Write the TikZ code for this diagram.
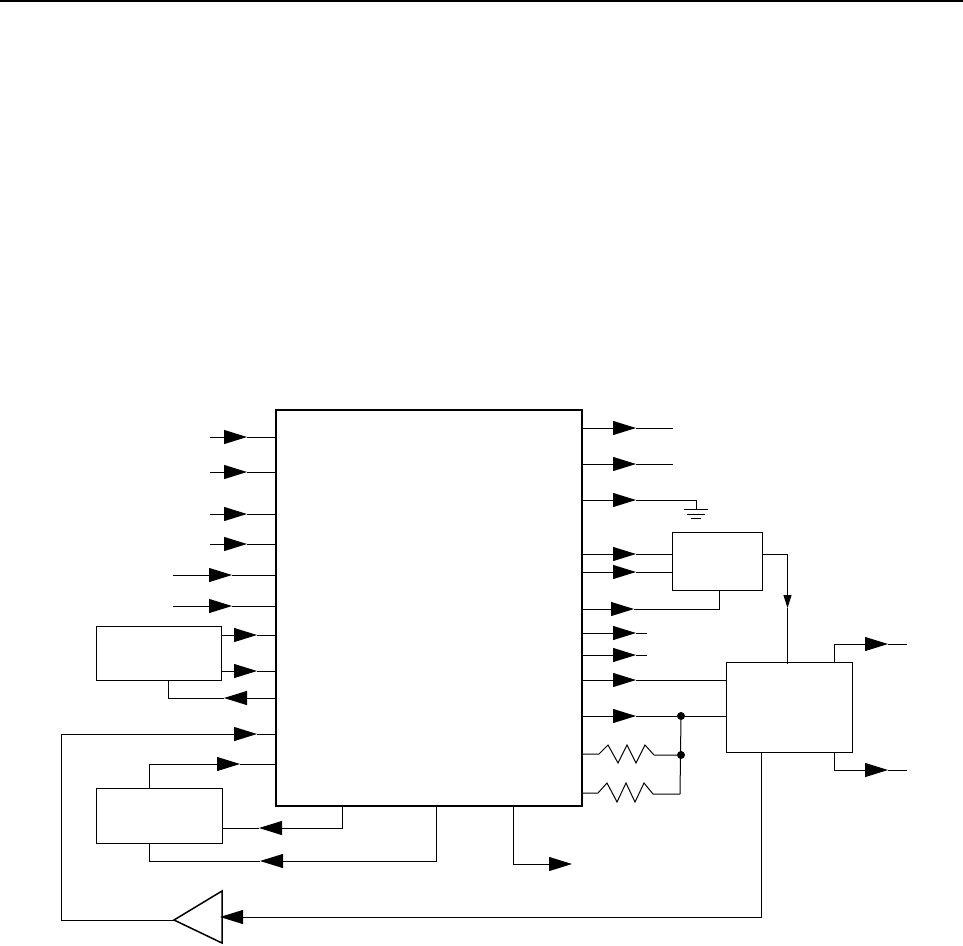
\documentclass[tikz,border=0pt]{standalone}
\usepackage{tikz}
\usetikzlibrary{arrows.meta}
\tikzset{
    wire/.style={line width=1pt},
    sigarrow/.style={-{Triangle[length=23pt,width=14pt]}},
    sigarrowv/.style={-{Triangle[length=13pt,width=8pt]}},
    blockbox/.style={draw,line width=1pt,inner sep=0pt,outer sep=0pt,anchor=north west},
    junction/.style={circle,fill=black,inner sep=0pt,minimum size=8pt}
}
\begin{document}
\begin{tikzpicture}[x=1pt,y=-1pt]
    \useasboundingbox (0,0) rectangle (963,945);
    % Top rule
    \coordinate (ruleL) at (0,1);
    \coordinate (ruleR) at (963,1);
    \draw[line width=2pt] (ruleL) -- (ruleR);

    % Blocks
    \node[blockbox,line width=2pt,minimum width=306pt,minimum height=396pt] (chip) at (276,410) {};
    \node[blockbox,minimum width=125pt,minimum height=54pt] (topleft) at (96.5,626) {};
    \node[blockbox,minimum width=125.5pt,minimum height=55pt] (lowleft) at (96.5,788) {};
    \node[blockbox,minimum width=90.5pt,minimum height=58pt] (midright) at (672,532) {};
    \node[blockbox,minimum width=126.5pt,minimum height=90pt] (driver) at (726,662) {};

    % Buffer
    \coordinate (bufout) at (174,920);
    \coordinate (bufup) at (222,891);
    \coordinate (bufdown) at (222,943);
    \draw[line width=1.5pt] (bufout) -- (bufup) -- (bufdown) -- cycle;

    % Free inputs on the left
    \foreach \n/\y/\xs/\xt in {1/437/210/247,2/472/210/247,3/514/210/247,4/544/210/247,5/575/173/232,6/606/173/232}
    {
        \coordinate (in\n) at (\xs,\y);
        \coordinate (tipin\n) at (\xt,\y);
        \draw[wire,sigarrow] (in\n) -- (tipin\n);
        \draw[wire] (tipin\n) -- (in\n -| chip.west);
    }

    % Top left block to chip
    \foreach \n/\y in {1/635,2/671}
    {
        \coordinate (tl\n) at (222,\y);
        \coordinate (tiptl\n) at (257,\y);
        \draw[wire,sigarrow] (tl\n) -- (tiptl\n);
        \draw[wire] (tiptl\n) -- (tl\n -| chip.west);
    }
    \coordinate (tlback) at (276,698);
    \coordinate (tiptlback) at (224,698);
    \coordinate (tlfoot) at (168.5,680);
    \draw[wire,sigarrow] (tlback) -- (tiptlback);
    \draw[wire] (tiptlback) -| (tlfoot);

    % Buffer loop
    \coordinate (loopin) at (276,734);
    \coordinate (tiploop) at (257,734);
    \coordinate (loopup) at (61,734);
    \coordinate (loopcorner) at (61,920);
    \draw[wire] (bufout) -- (loopcorner) -- (loopup);
    \draw[wire,sigarrow] (loopup) -- (tiploop);
    \draw[wire] (tiploop) -- (loopin);

    % Lower left block
    \coordinate (llup) at (149.5,788);
    \coordinate (lltop) at (149.5,764);
    \coordinate (tipll) at (240,764);
    \coordinate (llpin) at (276,764);
    \draw[wire] (llup) -- (lltop);
    \draw[wire,sigarrow] (lltop) -- (tipll);
    \draw[wire] (tipll) -- (llpin);

    % Bottom of the chip
    \coordinate (botA) at (342.5,806);
    \coordinate (tipA) at (259,828);
    \coordinate (endA) at (222,828);
    \draw[wire,sigarrow] (botA) |- (tipA);
    \draw[wire] (tipA) -- (endA);
    \coordinate (botB) at (436.5,806);
    \coordinate (tipB) at (260,861);
    \coordinate (endB) at (149.5,843);
    \draw[wire,sigarrow] (botB) |- (tipB);
    \draw[wire] (tipB) -| (endB);
    \coordinate (botC) at (513.5,806);
    \coordinate (tipC) at (572,864);
    \draw[wire,sigarrow] (botC) |- (tipC);

    % Free outputs on the right
    \foreach \n/\y/\xe in {1/428/673,2/464/673,3/500/696,4/633/647,5/655/647}
    {
        \coordinate (out\n) at (\xe,\y);
        \coordinate (tipout\n) at (636,\y);
        \draw[wire,sigarrow] (out\n -| chip.east) -- (tipout\n);
        \draw[wire] (tipout\n) -- (out\n);
    }

    % Ground
    \coordinate (gnd) at (696,509);
    \coordinate (gndAL) at (684,509);
    \coordinate (gndAR) at (708,509);
    \coordinate (gndBL) at (687,514);
    \coordinate (gndBR) at (705,514);
    \coordinate (gndCL) at (691,518);
    \coordinate (gndCR) at (701,518);
    \draw[wire] (out3) -- (gnd);
    \draw[wire] (gndAL) -- (gndAR);
    \draw[wire] (gndBL) -- (gndBR);
    \draw[wire] (gndCL) -- (gndCR);

    % Chip to middle block
    \foreach \n/\y in {1/554,2/572}
    {
        \coordinate (mid\n) at (636,\y);
        \draw[wire,sigarrow] (mid\n -| chip.east) -- (mid\n);
        \draw[wire] (mid\n) -- (mid\n -| midright.west);
    }
    \coordinate (tipmid) at (634,609);
    \coordinate (midfoot) at (719,590);
    \draw[wire,sigarrow] (tipmid -| chip.east) -- (tipmid);
    \draw[wire] (tipmid) -| (midfoot);

    % Middle block to driver
    \coordinate (midout) at (762.5,554);
    \coordinate (tipdrv) at (787.5,608);
    \coordinate (drvtop) at (787.5,664);
    \draw[wire,sigarrowv] (midout) -| (tipdrv);
    \draw[wire] (tipdrv) -- (drvtop);

    % Chip to driver
    \coordinate (tipdrvA) at (636,680);
    \draw[wire,sigarrow] (tipdrvA -| chip.east) -- (tipdrvA);
    \draw[wire] (tipdrvA) -- (tipdrvA -| driver.west);
    \coordinate (tipdrvB) at (636,716);
    \node[junction] (jointA) at (681,716) {};
    \node[junction] (jointB) at (681,755) {};
    \draw[wire,sigarrow] (tipdrvB -| chip.east) -- (tipdrvB);
    \draw[wire] (tipdrvB) -- (jointA) -- (jointA -| driver.west);

    % Resistors
    \coordinate (resA) at (599,754);
    \coordinate (resB) at (598,793);
    \coordinate (railend) at (680,794);
    \draw[wire] (resA -| chip.east) -- (resA) -- ++(9,-9) -- ++(10,18) -- ++(9,-18) -- ++(9,18) -- ++(9,-18) -- ++(9,10) -- (jointB);
    \draw[wire] (resB -| chip.east) -- (resB) -- ++(9,-10) -- ++(10,19) -- ++(9,-19) -- ++(9,19) -- ++(9,-19) -- ++(9,11) -- (railend);
    \draw[wire] (jointA) -- (railend);

    % Outputs of the driver
    \coordinate (drvoutA) at (834,662);
    \coordinate (tipoutA) at (888,644);
    \coordinate (endoutA) at (907,644);
    \draw[wire,sigarrow] (drvoutA) |- (tipoutA);
    \draw[wire] (tipoutA) -- (endoutA);
    \coordinate (drvoutB) at (834,752);
    \coordinate (tipoutB) at (888,770);
    \coordinate (endoutB) at (907,770);
    \draw[wire,sigarrow] (drvoutB) |- (tipoutB);
    \draw[wire] (tipoutB) -- (endoutB);

    % Feedback to the buffer
    \coordinate (drvfoot) at (761.5,752);
    \coordinate (fbcorner) at (761.5,917);
    \coordinate (tipfb) at (220,917);
    \draw[wire,sigarrow] (drvfoot) -- (fbcorner) -- (tipfb);
\end{tikzpicture}
\end{document}
